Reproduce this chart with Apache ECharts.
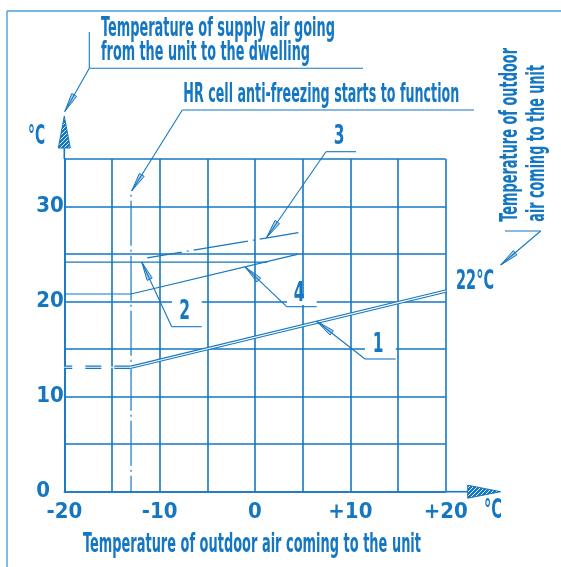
<!DOCTYPE html>
<html>
<head>
<meta charset="utf-8">
<script src="https://cdn.jsdelivr.net/npm/echarts@6/dist/echarts.min.js"></script>
<style>
  html, body { margin: 0; padding: 0; background: #ffffff; }
  #chart { width: 561px; height: 567px; }
</style>
</head>
<body>
<div id="chart"></div>
<script>
// ---------- data ----------
const xTickValues = [-20, -10, 0, 10, 20];
const xTickLabels = ['-20', '-10', '0', '+10', '+20'];
const yTickValues = [0, 10, 20, 30];
const yTickLabels = ['0', '10', '20', '30'];

// curve 1: supply air temperature (double line), dashed below anti-freezing start
const line1X = [-13, 20];
const line1Y = [13.1, 21.1];
const line1DashX = [-20, -13];
const line1DashY = [13.1, 13.1];
// curve 2
const line2X = [-20, 1.3];
const line2Y = [24.15, 24.15];
// curve 3 (dash-dot)
const line3X = [-11.3, 4.55];
const line3Y = [24.6, 27.25];
// curve 4
const line4X = [-20, -13, 4.55];
const line4Y = [20.8, 20.8, 25.0];
// anti-freezing start
const antiFreezeX = [-13, -13];
const antiFreezeY = [0, 31.6];

const curveLabels = ['1', '2', '3', '4'];
const texts = {
  supply1: 'Temperature of supply air going',
  supply2: 'from the unit to the dwelling',
  hr: 'HR cell anti-freezing starts to function',
  xTitle: 'Temperature of outdoor air coming to the unit',
  out1: 'Temperature of outdoor',
  out2: 'air coming to the unit',
  indoor: '22°C',
  unit: '°C'
};

// ---------- helpers ----------
const BLUE = '#1577c2';
const FONT = "'Liberation Sans Narrow', 'DejaVu Sans Condensed', 'Roboto Condensed', sans-serif";
const WEIGHT = 'bold';
const mctx = document.createElement('canvas').getContext('2d');
function measure(str, size) {
  mctx.font = WEIGHT + ' ' + size + 'px ' + FONT;
  return mctx.measureText(str).width;
}
function zip(xs, ys) { return xs.map((x, i) => [x, ys[i]]); }

function txt(str, x, y, targetW, size, opts) {
  opts = opts || {};
  const w = measure(str, size);
  const s = targetW ? targetW / w : (opts.scale || 1);
  return {
    type: 'text', x: x, y: y, z: 120,
    rotation: opts.rotation || 0,
    scaleX: s, scaleY: 1,
    style: {
      text: str, fill: BLUE, font: WEIGHT + ' ' + size + 'px ' + FONT,
      align: opts.align || 'left', verticalAlign: 'middle'
    },
    silent: true
  };
}
function seg(x1, y1, x2, y2, w, color) {
  return { type: 'line', z: 110, silent: true,
    shape: { x1: x1, y1: y1, x2: x2, y2: y2 },
    style: { stroke: color || BLUE, lineWidth: w || 1.1 } };
}
function leaderHead(tx, ty, fx, fy) {
  const dx = fx - tx, dy = fy - ty, L = Math.hypot(dx, dy);
  const ux = dx / L, uy = dy / L, len = 19, hw = 2.8;
  const bx = tx + ux * len, by = ty + uy * len;
  const nx = -uy, ny = ux;
  return { type: 'polygon', z: 115, silent: true,
    shape: { points: [[tx, ty], [bx + nx * hw, by + ny * hw], [bx - nx * hw, by - ny * hw]] },
    style: { fill: 'rgba(21,119,194,0.35)', stroke: BLUE, lineWidth: 1 } };
}
function knock(x, y, w, h) {
  return { type: 'rect', z: 105, silent: true, shape: { x: x, y: y, width: w, height: h },
    style: { fill: '#ffffff' } };
}

// hatched pattern for axis arrows
const pc = document.createElement('canvas');
pc.width = 4; pc.height = 4;
const pctx = pc.getContext('2d');
pctx.fillStyle = BLUE; pctx.fillRect(0, 0, 4, 4);
pctx.strokeStyle = '#ffffff'; pctx.lineWidth = 0.9;
pctx.beginPath(); pctx.moveTo(0, 4); pctx.lineTo(4, 0); pctx.stroke();
pctx.beginPath(); pctx.moveTo(-1, 1); pctx.lineTo(1, -1); pctx.stroke();
pctx.beginPath(); pctx.moveTo(3, 5); pctx.lineTo(5, 3); pctx.stroke();
const hatch = { image: pc, repeat: 'repeat' };

// ---------- chart ----------
const chart = echarts.init(document.getElementById('chart'), null, { renderer: 'canvas' });

const gridLine = { show: true, lineStyle: { color: BLUE, width: 1.6 } };
const SZ = 26;

const graphics = [
  // frame
  seg(7, 11, 561, 11, 1.4, '#4a9fdc'),
  seg(7, 11, 7, 567, 1.4, '#4a9fdc'),
  // axis extensions and arrows
  seg(64.3, 159, 64.3, 147, 1.6),
  seg(445.7, 491.7, 468, 491.7, 1.6),
  { type: 'polygon', z: 115, silent: true,
    shape: { points: [[64.3, 116], [58.3, 148], [70.3, 148]] },
    style: { fill: hatch, stroke: BLUE, lineWidth: 1 } },
  { type: 'polygon', z: 115, silent: true,
    shape: { points: [[500.7, 491.7], [467.7, 485.2], [467.7, 498.2]] },
    style: { fill: hatch, stroke: BLUE, lineWidth: 1 } },
  txt(texts.unit, 28, 137, 17, SZ),
  txt(texts.unit, 484, 511, 18, SZ),

  // supply air annotation
  txt(texts.supply1, 101, 29.5, 234, SZ),
  txt(texts.supply2, 101, 53.5, 209, SZ),
  seg(89.3, 32, 89.3, 68.3),
  seg(89.3, 68.3, 363, 68.3),
  seg(89.3, 68.3, 64.8, 111.5),
  leaderHead(64.8, 111.5, 89.3, 68.3),

  // HR cell annotation
  txt(texts.hr, 183.3, 95.5, 276, SZ),
  seg(182.3, 110, 474, 110),
  seg(182.3, 110, 131.7, 191),
  leaderHead(131.7, 191, 182.3, 110),

  // label 3
  txt(curveLabels[2], 339, 137.5, null, SZ, { align: 'center', scale: 0.66 }),
  seg(326, 151.7, 356, 151.7),
  seg(326, 151.7, 266.5, 237.7),
  leaderHead(266.5, 237.7, 326, 151.7),

  // label 2
  knock(172, 298.5, 29.7, 6.5),
  txt(curveLabels[1], 184.5, 312, null, SZ, { align: 'center', scale: 0.66 }),
  seg(171.7, 326.7, 201.7, 326.7),
  seg(171.7, 326.7, 141.7, 262),
  leaderHead(141.7, 262, 171.7, 326.7),

  // label 4
  knock(287, 298.5, 29.7, 6.5),
  txt(curveLabels[3], 299, 294.5, null, SZ, { align: 'center', scale: 0.66 }),
  seg(286.7, 306.7, 316.7, 306.7),
  seg(286.7, 306.7, 245, 266.8),
  leaderHead(245, 266.8, 286.7, 306.7),

  // label 1
  knock(365, 346, 30.7, 6.5),
  txt(curveLabels[0], 378, 345.5, null, SZ, { align: 'center', scale: 0.66 }),
  seg(365, 359, 395.7, 359),
  seg(365, 359, 316.7, 321.2),
  leaderHead(316.7, 321.2, 365, 359),

  // outdoor air annotation (rotated)
  txt(texts.out1, 510.5, 221.7, 173.7, 24, { rotation: Math.PI / 2 }),
  txt(texts.out2, 538, 221.7, 156.7, 24, { rotation: Math.PI / 2 }),
  seg(505, 231, 540.7, 231),
  seg(540.7, 231, 500.7, 265),
  leaderHead(500.7, 265, 540.7, 231),
  txt(texts.indoor, 456, 282.5, 38, 26),

  // x axis title
  txt(texts.xTitle, 83, 545.5, 338, SZ)
];

const option = {
  animation: false,
  backgroundColor: '#ffffff',
  grid: { left: 64.3, right: 115.3, top: 159, bottom: 75.3, containLabel: false },
  xAxis: {
    type: 'value', min: -20, max: 20, interval: 5,
    axisLine: { show: true, onZero: false, lineStyle: { color: BLUE, width: 1.6 } },
    axisTick: { show: false },
    splitLine: gridLine,
    axisLabel: {
      color: BLUE, fontFamily: FONT, fontSize: 22, fontWeight: 'bold', margin: 10,
      formatter: v => { const i = xTickValues.indexOf(v); return i >= 0 ? xTickLabels[i] : ''; }
    }
  },
  yAxis: {
    type: 'value', min: 0, max: 35, interval: 5,
    axisLine: { show: true, onZero: false, lineStyle: { color: BLUE, width: 1.6 } },
    axisTick: { show: false },
    splitLine: gridLine,
    axisLabel: {
      color: BLUE, fontFamily: FONT, fontSize: 22, fontWeight: 'bold', margin: 28, align: 'left',
      formatter: v => { const i = yTickValues.indexOf(v); return i >= 0 ? yTickLabels[i] : ''; }
    }
  },
  series: [
    { type: 'line', data: zip(antiFreezeX, antiFreezeY), symbol: 'none', silent: true, z: 3,
      lineStyle: { color: BLUE, width: 1.2, type: [45, 4, 2, 4], dashOffset: 29 } },
    { type: 'line', data: zip(line4X, line4Y), symbol: 'none', silent: true, z: 3,
      lineStyle: { color: BLUE, width: 1.2 } },
    { type: 'line', data: zip(line2X, line2Y), symbol: 'none', silent: true, z: 3,
      lineStyle: { color: BLUE, width: 1.2 } },
    { type: 'line', data: zip(line3X, line3Y), symbol: 'none', silent: true, z: 3,
      lineStyle: { color: BLUE, width: 1.2, type: [55, 5, 2, 5], dashOffset: 20 } },
    { type: 'line', data: zip(line1X, line1Y), symbol: 'none', silent: true, z: 4,
      lineStyle: { color: BLUE, width: 3.4 } },
    { type: 'line', data: zip(line1X, line1Y), symbol: 'none', silent: true, z: 5,
      lineStyle: { color: '#ffffff', width: 1.1 } },
    { type: 'line', data: zip(line1DashX, line1DashY), symbol: 'none', silent: true, z: 4,
      lineStyle: { color: BLUE, width: 3.4, type: [16, 13], dashOffset: 8 } },
    { type: 'line', data: zip(line1DashX, line1DashY), symbol: 'none', silent: true, z: 5,
      lineStyle: { color: '#ffffff', width: 1.1 } }
  ],
  graphic: { elements: graphics }
};
chart.setOption(option);
</script>
</body>
</html>
